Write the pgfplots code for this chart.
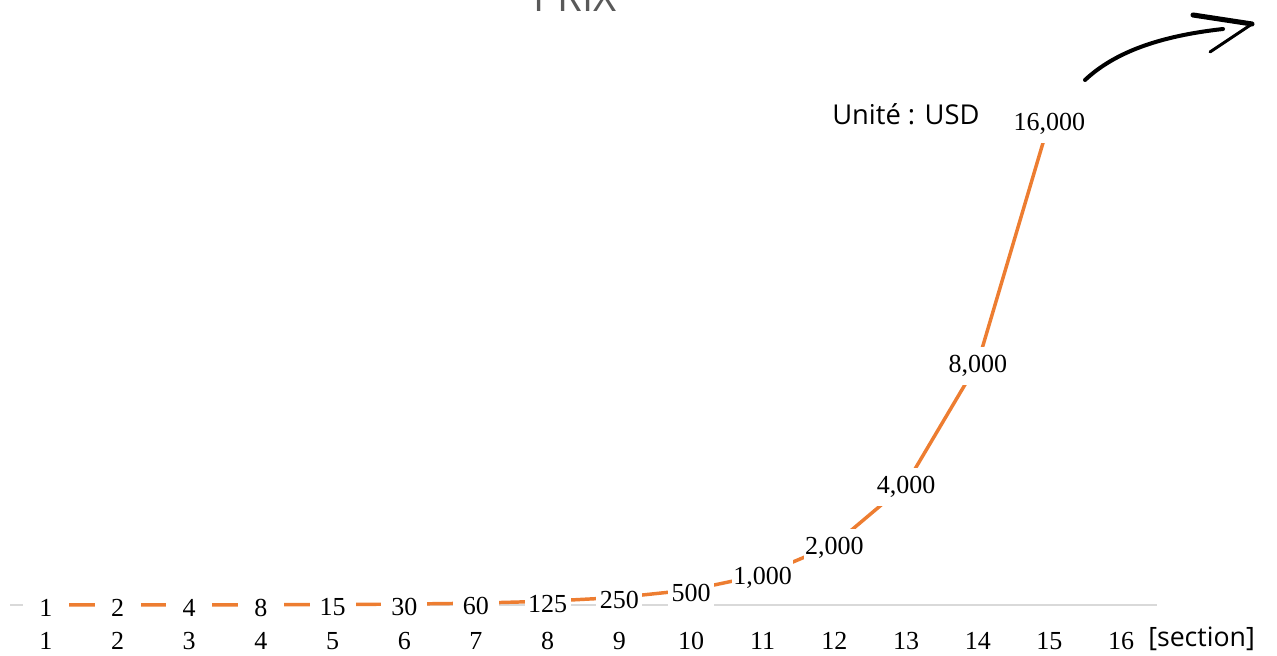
\documentclass[border=0pt]{standalone}
\usepackage{pgfplots}
\pgfplotsset{compat=1.18}
\usepackage{fontspec}
\setmainfont{Liberation Serif}
\newfontfamily\sans{Open Sans}
\definecolor{orangeline}{HTML}{ED7D31}
\definecolor{axisgray}{HTML}{D9D9D9}
\definecolor{titlegray}{HTML}{595959}
\begin{document}
\begin{tikzpicture}
\clip (0,0) rectangle (957.75pt,492pt);
\useasboundingbox (0,0) rectangle (957.75pt,492pt);
\begin{axis}[
  at={(7.5pt,38.25pt)}, anchor=south west,
  scale only axis, width=860.25pt, height=363pt,
  xmin=0.5, xmax=16.5, ymin=0, ymax=16000,
  axis x line=bottom, hide y axis,
  x axis line style={draw=none},
  xtick={1,...,16}, major tick length=0pt,
  /pgf/number format/.cd, fixed, precision=0, 1000 sep={,}, assume math mode=true,
  /pgfplots/.cd,
  xticklabel style={font=\fontsize{19.5}{20}\selectfont, anchor=base, yshift=-33.5pt, inner sep=0pt},
  clip=false,
  nodes near coords,
  every node near coord/.style={anchor=center, fill=white, inner sep=1pt,
    minimum width=34.5pt, minimum height=28pt, text=black, yshift=-2.2pt,
    font=\fontsize{19.5}{20}\selectfont},
]
\draw[axisgray, line width=1.1pt] (axis cs:0.5,0) -- (axis cs:16.5,0);
\addplot[orangeline, line width=2.6pt, mark=none] coordinates {
  (1,1) (2,2) (3,4) (4,8) (5,15) (6,30) (7,60) (8,125) (9,250)
  (10,500) (11,1000) (12,2000) (13,4000) (14,8000) (15,16000)
};
\end{axis}
\node[anchor=base west, inner sep=0pt, font=\sans\fontsize{20}{21}\selectfont] at (861pt,6.75pt) {[section]};
\node[anchor=base west, inner sep=0pt, font=\sans\fontsize{20.5}{21}\selectfont] at (624pt,398.25pt) {Unité : USD};
\node[anchor=base, inner sep=0pt, text=titlegray, font=\sans\fontsize{30}{32}\selectfont] at (431.25pt,483pt) {PRIX};
\draw[black, line width=3pt, line cap=round] (813.75pt,432pt) .. controls (836.25pt,453pt) and (870pt,465pt) .. (917.25pt,470.25pt);
\draw[black, line width=3.8pt, line cap=round] (894.75pt,480.75pt) -- (939pt,474pt);
\draw[black, line width=2.2pt, line cap=round] (939pt,474pt) -- (907.5pt,453pt);
\end{tikzpicture}
\end{document}
